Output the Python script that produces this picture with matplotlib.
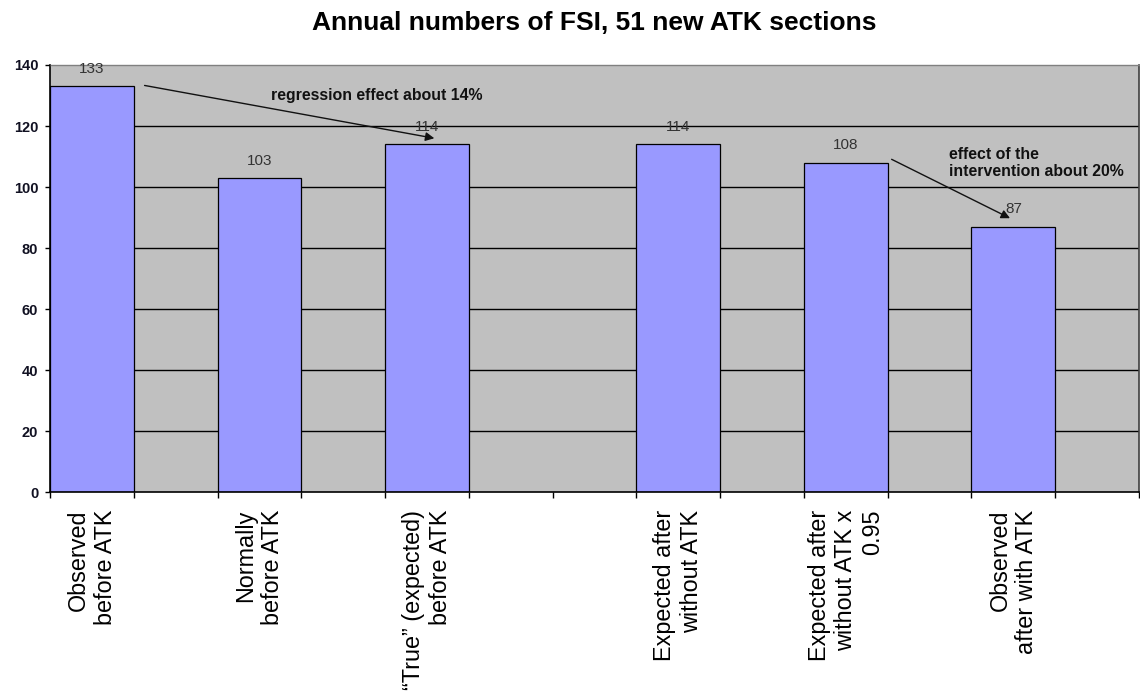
import matplotlib
matplotlib.use("Agg")
import matplotlib.pyplot as plt

plt.rcParams['font.family'] = ['Liberation Sans', 'DejaVu Sans']

# Chart data
categories = [
    "Observed\nbefore ATK",
    "Normally\nbefore ATK",
    "\u201cTrue\u201d (expected)\nbefore ATK",
    "Expected after\nwithout ATK",
    "Expected after\nwithout ATK x\n0.95",
    "Observed\nafter with ATK",
]
values = [133, 103, 114, 114, 108, 87]
y_ticks = [0, 20, 40, 60, 80, 100, 120, 140]
title = "Annual numbers of FSI, 51 new ATK sections"
note_regression = "regression effect about 14%"
note_intervention = "effect of the\nintervention about 20%"

# Layout: the category axis has 13 equal slots, bars occupy some of them
n_slots = 13
bar_slots = [0, 2, 4, 7, 9, 11]

fig = plt.figure(figsize=(11.4, 6.93), dpi=100)
ax = fig.add_axes([50 / 1140, 1 - 492.3 / 693, 1089 / 1140, (492.3 - 65) / 693])
ax.set_facecolor('#c0c0c0')

ax.set_xlim(0, n_slots)
ax.set_ylim(y_ticks[0], y_ticks[-1])

# horizontal gridlines behind bars
for yv in y_ticks[1:-1]:
    ax.axhline(yv, color='black', lw=1.0, zorder=1)

bars = ax.bar(bar_slots, values, width=1.0, align='edge', color='#9999ff',
              edgecolor='black', linewidth=0.9, zorder=2)

# value labels above bars
for s, v in zip(bar_slots, values):
    ax.annotate(f"{v}", xy=(s + 0.5, v), xytext=(0, 12.5), textcoords='offset points',
                ha='center', va='center', fontsize=11, color='#333333', zorder=4)

# axes styling
ax.set_yticks(y_ticks)
ax.set_yticklabels([str(t) for t in y_ticks], fontsize=10.5, fontweight='bold', color='#111122')
ax.tick_params(axis='y', direction='out', length=3.5, width=1, color='black', pad=5)

ax.set_xticks(range(n_slots + 1))
ax.set_xticklabels([])
ax.tick_params(axis='x', which='major', direction='out', length=4, width=1, color='black')
ax.set_xticks([s + 0.5 for s in bar_slots], minor=True)
ax.set_xticklabels(categories, minor=True, rotation=90, fontsize=16.8, va='top',
                   ha='center', linespacing=1.2)
ax.tick_params(axis='x', which='minor', length=0, pad=12.7)
for lab in ax.get_xticklabels(minor=True):
    lab.set_multialignment('right')

for side in ('left', 'bottom'):
    ax.spines[side].set_color('black')
    ax.spines[side].set_linewidth(1.2)
ax.spines['top'].set_color('#808080')
ax.spines['top'].set_linewidth(1.0)
ax.spines['right'].set_color('#404040')
ax.spines['right'].set_linewidth(1.2)
ax.set_axisbelow(False)

# arrows and notes
arrow_kw = dict(arrowstyle='-|>', color='#111111', lw=1.0, mutation_scale=13,
                shrinkA=0, shrinkB=0)
ax.annotate("", xy=(4.588, 116.0), xytext=(1.129, 133.3), arrowprops=arrow_kw, zorder=5)
ax.annotate("", xy=(11.46, 89.8), xytext=(10.047, 109.1), arrowprops=arrow_kw, zorder=5)

ax.text(2.643, 130.0, note_regression, fontsize=11.4, fontweight='bold', color='#111111',
        ha='left', va='center', zorder=3)
ax.text(10.735, 107.9, note_intervention, fontsize=11.4, fontweight='bold', color='#111111',
        ha='left', va='center', linespacing=1.18, zorder=3)

fig.text(594.5 / 1140, 1 - 30 / 693, title, ha='center', va='baseline',
         fontsize=19.0, fontweight='bold', color='black')

fig.savefig("out.png", dpi=100)
